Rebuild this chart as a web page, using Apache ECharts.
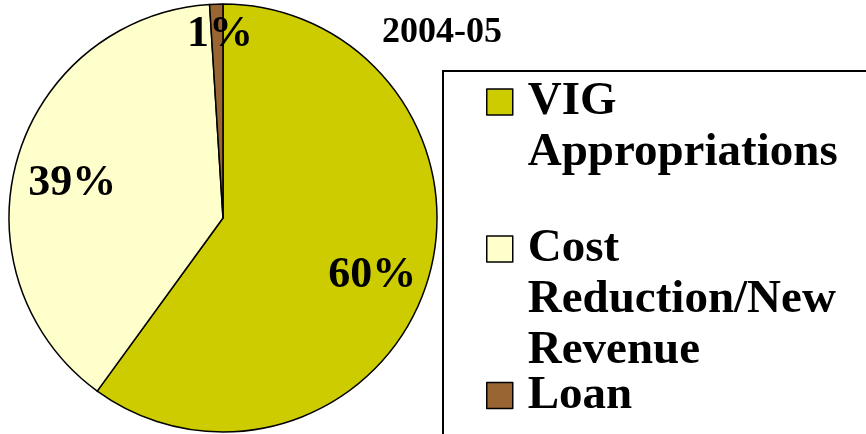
<!DOCTYPE html>
<html>
<head>
<meta charset="utf-8">
<script src="https://cdn.jsdelivr.net/npm/echarts@6/dist/echarts.min.js"></script>
<style>
  html, body { margin: 0; padding: 0; background: #fff; }
  #main { width: 866px; height: 434px; }
</style>
</head>
<body>
<div id="main"></div>
<script>
var names = ['VIG Appropriations', 'Cost Reduction/New Revenue', 'Loan'];
var legendLines = [['VIG', 'Appropriations'], ['Cost', 'Reduction/New', 'Revenue'], ['Loan']];
var values = [60, 39, 1];
var colors = ['#CCCC00', '#FFFFCC', '#996633'];
var title = '2004-05';

var font = "'Liberation Serif', 'Times New Roman', serif";
var lineH = 51;
var iconCenters = [102, 249, 395.5];

var pieData = names.map(function (n, i) {
    return { name: n, value: values[i], itemStyle: { color: colors[i] } };
});
var labelData = names.map(function (n, i) {
    var d = { name: n, value: values[i] };
    if (i == 2) {
        d.label = { offset: [2, -26] };
    }
    return d;
});

// blank lines on top so the first real line sits level with the icon
var legends = names.map(function (n, i) {
    var k = legendLines[i].length;
    var txt = '';
    for (var j = 0; j < k - 1; j++) txt += ' \n';
    txt += legendLines[i].join('\n');
    return {
        data: [n],
        orient: 'vertical',
        left: 486,
        top: iconCenters[i] - (2 * k - 1) * lineH / 2,
        padding: 0,
        icon: 'rect',
        itemWidth: 26,
        itemHeight: 26,
        selectedMode: false,
        itemStyle: { borderColor: '#000', borderWidth: 1.5 },
        formatter: function () { return txt; },
        textStyle: {
            fontFamily: font,
            fontWeight: 'bold',
            fontSize: 47,
            color: '#000',
            lineHeight: lineH,
            padding: [0, 0, 0, 10]
        }
    };
});

var myChart = echarts.init(document.getElementById('main'));
myChart.setOption({
    animation: false,
    title: {
        text: title,
        left: 382,
        top: 15,
        padding: 0,
        textStyle: { fontFamily: font, fontWeight: 'bold', fontSize: 36, color: '#000' }
    },
    legend: legends,
    graphic: [{
        type: 'rect',
        z: -1,
        shape: { x: 443, y: 71, width: 440, height: 400 },
        style: { fill: 'none', stroke: '#000', lineWidth: 2 }
    }],
    series: [
        {
            name: 'share',
            type: 'pie',
            center: [223, 218],
            radius: [0, 214],
            startAngle: 90,
            clockwise: true,
            label: { show: false },
            labelLine: { show: false },
            itemStyle: { borderColor: '#000', borderWidth: 1.5 },
            data: pieData
        },
        {
            name: 'labels',
            type: 'pie',
            silent: true,
            center: [223, 218],
            radius: [94, 214],
            startAngle: 90,
            clockwise: true,
            itemStyle: { color: 'rgba(0,0,0,0)', borderWidth: 0 },
            label: {
                show: true,
                position: 'inside',
                formatter: '{d}%',
                offset: [0, 9],
                fontFamily: font,
                fontWeight: 'bold',
                fontSize: 44,
                color: '#000'
            },
            labelLine: { show: false },
            data: labelData
        }
    ]
});
</script>
</body>
</html>
